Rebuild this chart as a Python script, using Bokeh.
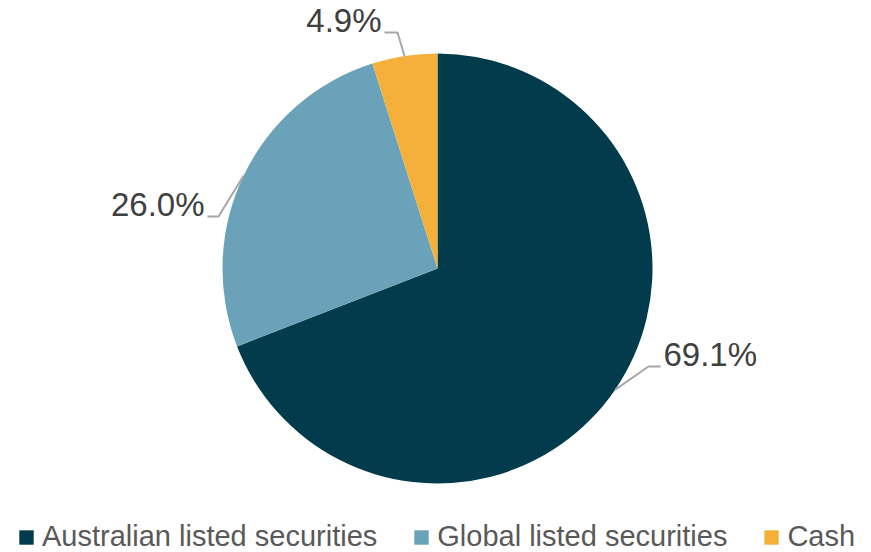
import math
from bokeh.plotting import figure
from bokeh.models import Range1d, ColumnDataSource, Legend, LegendItem
from bokeh.core.properties import value
from bokeh.embed import file_html
from bokeh.resources import INLINE

# ---- data ----
categories = ["Australian listed securities", "Global listed securities", "Cash"]
shares = [69.1, 26.0, 4.9]
labels = ["69.1%", "26.0%", "4.9%"]
colors = ["#013b4c", "#6aa3b9", "#f4b03a"]

# ---- layout (page pixel coordinates, y measured downward) ----
W, H = 871, 552
OFF = 0
cx, cy, R = 437, 268, 215
# elbow point of each leader line, horizontal run length and side of the text
elbows = [(648, 366), (218, 216), (397, 32)]
runs = [12, -11, -13]
TEXT_LIFT = 12

p = figure(width=W, height=H, output_backend="svg", toolbar_location=None,
           x_range=Range1d(OFF, OFF + W), y_range=Range1d(-(OFF + H), -OFF),
           min_border=0)
p.axis.visible = False
p.grid.visible = False
p.outline_line_color = None
p.background_fill_color = "white"
p.border_fill_color = "white"

total = sum(shares)
starts, ends, mids = [], [], []
cum = 0.0
for s in shares:
    a0 = math.pi / 2 - 2 * math.pi * cum / total
    cum += s
    a1 = math.pi / 2 - 2 * math.pi * cum / total
    starts.append(a0)
    ends.append(a1)
    mids.append((a0 + a1) / 2)

src = ColumnDataSource(dict(cat=categories, start=starts, end=ends, color=colors))
wr = p.wedge(x=cx, y=-cy, radius=R, start_angle="start", end_angle="end",
             direction="clock", fill_color="color", line_color=None, source=src)

font = value("Liberation Sans")
for lab, m, (ex, ey), run in zip(labels, mids, elbows, runs):
    sx = cx + R * math.cos(m)
    sy = cy - R * math.sin(m)
    p.line([sx, ex, ex + run], [-sy, -ey, -ey], line_color="#a6a6a6", line_width=2)
    if run > 0:
        tx, align = ex + run + 3, "left"
    else:
        tx, align = ex + run - 3, "right"
    p.text(x=[tx], y=[-ey + TEXT_LIFT], text=[lab], text_font=font, text_font_size="33px",
           text_color="#404040", text_align=align, text_baseline="alphabetic")

items = [LegendItem(label=c, renderers=[wr], index=i) for i, c in enumerate(categories)]
legend = Legend(items=items, orientation="horizontal", location=(17, -1),
                glyph_width=18, glyph_height=18, label_standoff=7, spacing=35,
                padding=0, margin=0, border_line_color=None,
                background_fill_alpha=0, label_text_font="Liberation Sans",
                label_text_font_size="29px", label_text_color="#595959",
                label_height=18)
p.add_layout(legend, "center")

open("out.html", "w").write(file_html(p, INLINE))
